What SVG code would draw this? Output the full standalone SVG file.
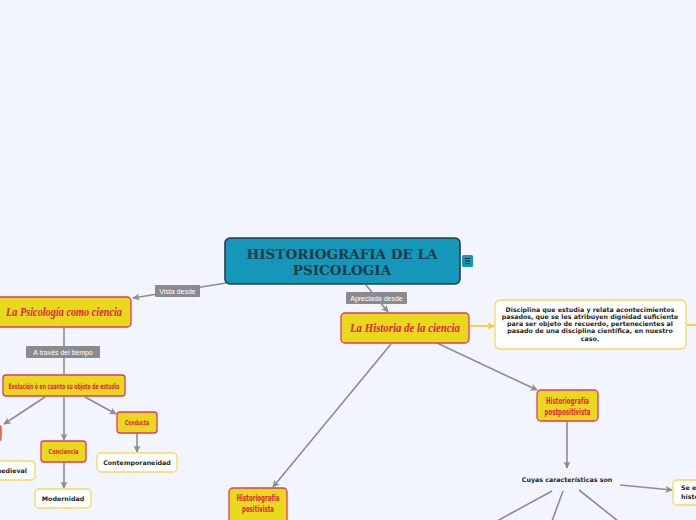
<svg xmlns="http://www.w3.org/2000/svg" width="696" height="520" viewBox="0 0 696 520">
<defs>
<style>
.bg{fill:#f2f5fd}
.ln{stroke:#8d8d8f;stroke-width:1.6;fill:none}
.lbl rect{fill:#8b8b8d}
.lbl text{fill:#fff;font-family:"Liberation Sans",Arial,sans-serif;font-size:7px;text-anchor:middle}
.y rect{fill:#e8d91c;stroke:#e5366a;stroke-width:1.3}
.script{fill:#e8223c;font-family:"Liberation Serif",serif;font-style:italic;font-weight:bold;font-size:12.5px;text-anchor:middle}
.cond{fill:#e8223c;font-family:"DejaVu Sans Condensed","DejaVu Sans",sans-serif;font-weight:bold;font-size:7px;text-anchor:middle}
.w rect{fill:#fff;stroke:#f7d75c;stroke-width:1.3}
.dk{fill:#1f1f24;font-family:"DejaVu Sans","Liberation Sans",sans-serif;font-weight:bold;font-size:6.3px;text-anchor:middle}
</style>
<marker id="ah" viewBox="0 0 10 10" refX="9" refY="5" markerWidth="4.5" markerHeight="4.5" orient="auto-start-reverse" markerUnits="strokeWidth">
<path d="M0,0 L10,5 L0,10 L2.5,5 z" fill="#8d8d8f"/>
</marker>
<marker id="ahy" viewBox="0 0 10 10" refX="9" refY="5" markerWidth="4.5" markerHeight="4.5" orient="auto" markerUnits="strokeWidth">
<path d="M0,0 L10,5 L0,10 L2.5,5 z" fill="#f7c81d"/>
</marker>
</defs>
<rect class="bg" x="0" y="0" width="696" height="520"/>

<g id="connectors">
<line class="ln" x1="226" y1="283" x2="133" y2="298" marker-end="url(#ah)"/>
<line class="ln" x1="64" y1="327" x2="64" y2="374"/>
<line class="ln" x1="45" y1="397" x2="4" y2="424" marker-end="url(#ah)"/>
<line class="ln" x1="64" y1="397" x2="64" y2="440" marker-end="url(#ah)"/>
<line class="ln" x1="85" y1="397" x2="116" y2="414" marker-end="url(#ah)"/>
<line class="ln" x1="64" y1="462" x2="64" y2="488" marker-end="url(#ah)"/>
<line class="ln" x1="137" y1="433" x2="137" y2="452" marker-end="url(#ah)"/>
<line class="ln" x1="366" y1="285" x2="388" y2="312" marker-end="url(#ah)"/>
<line x1="470" y1="326" x2="494" y2="326" stroke="#f7c81d" stroke-width="1.6" marker-end="url(#ahy)"/>
<line x1="687" y1="325" x2="696" y2="325" stroke="#f7c81d" stroke-width="1.6"/>
<line class="ln" x1="437" y1="343" x2="537" y2="390" marker-end="url(#ah)"/>
<line class="ln" x1="567" y1="422" x2="567" y2="468" marker-end="url(#ah)"/>
<line class="ln" x1="620" y1="485" x2="672" y2="490" marker-end="url(#ah)"/>
<line class="ln" x1="552" y1="491" x2="497" y2="521"/>
<line class="ln" x1="563" y1="491" x2="552" y2="521"/>
<line class="ln" x1="579" y1="490" x2="618" y2="521"/>
<line class="ln" x1="391" y1="344" x2="273" y2="487" marker-end="url(#ah)"/>
<g class="lbl"><rect x="155" y="285" width="45" height="12" rx="1"/><text x="177.5" y="293.5">Vista desde</text></g>
<g class="lbl"><rect x="26" y="346" width="74" height="12" rx="1"/><text x="63" y="354.5">A través del tiempo</text></g>
<g class="lbl"><rect x="346" y="292" width="61" height="12" rx="1"/><text x="376.5" y="300.5">Apreciada desde</text></g>
</g>

<g id="central">
<rect x="225" y="238" width="235" height="46" rx="5" fill="#1497b9" stroke="#2e3a40" stroke-width="1.6"/>
<text x="342" y="259" font-family="'DejaVu Serif',serif" font-weight="bold" font-size="13.5" fill="#1c3a4a" text-anchor="middle">HISTORIOGRAFIA DE LA</text>
<text x="342" y="275" font-family="'DejaVu Serif',serif" font-weight="bold" font-size="13.5" fill="#1c3a4a" text-anchor="middle">PSICOLOGIA</text>
</g>
<g id="menu-icon">
<rect x="462" y="255" width="11" height="12" rx="1.5" fill="#1497b9"/>
<path d="M465,258.5h5M465,261h5M465,263.5h5" stroke="#1c2a33" stroke-width="1.2"/>
</g>

<g id="psicologia" class="y">
<rect x="-4" y="297" width="135" height="30" rx="4"/>
<text class="script" x="64" y="316" textLength="116" lengthAdjust="spacingAndGlyphs">La Psicología como ciencia</text>
</g>
<g id="evolucion" class="y">
<rect x="3" y="375" width="122" height="21" rx="3"/>
<text class="cond" x="64" y="388.5" textLength="111" lengthAdjust="spacingAndGlyphs" style="font-size:7.6px">Evolución ó en cuanto su objeto de estudio</text>
</g>
<g id="hidden-left" class="y">
<rect x="-60" y="425" width="61" height="16" rx="3"/>
</g>
<g id="medieval" class="w">
<rect x="-30" y="461" width="65" height="19" rx="4"/>
<text class="dk" x="27" y="473" style="text-anchor:end">medieval</text>
</g>
<g id="conciencia" class="y">
<rect x="41" y="441" width="45" height="21" rx="3"/>
<text class="cond" x="63.5" y="454" textLength="30" lengthAdjust="spacingAndGlyphs">Conciencia</text>
</g>
<g id="modernidad" class="w">
<rect x="35" y="489" width="56" height="19" rx="4"/>
<text class="dk" x="63" y="501">Modernidad</text>
</g>
<g id="conducta" class="y">
<rect x="117" y="412" width="40" height="21" rx="3"/>
<text class="cond" x="137" y="425" textLength="24" lengthAdjust="spacingAndGlyphs">Conducta</text>
</g>
<g id="contemporaneidad" class="w">
<rect x="97" y="453" width="80" height="19" rx="4"/>
<text class="dk" x="137" y="465">Contemporaneidad</text>
</g>

<g id="historia" class="y">
<rect x="341" y="313" width="128" height="30" rx="4"/>
<text class="script" x="405" y="332" textLength="110" lengthAdjust="spacingAndGlyphs">La Historia de la ciencia</text>
</g>
<g id="disciplina" class="w">
<rect x="495" y="300" width="191" height="49" rx="5"/>
<text class="dk" x="590" y="312">Disciplina que estudia y relata  acontecimientos</text>
<text class="dk" x="590" y="319">pasados, que se les atribuyen dignidad suficiente</text>
<text class="dk" x="590" y="326">para ser objeto de recuerdo, pertenecientes al</text>
<text class="dk" x="590" y="333">pasado  de una disciplina científica, en nuestro</text>
<text class="dk" x="590" y="341">caso.</text>
</g>
<g id="postpositivista" class="y">
<rect x="537" y="390" width="61" height="31" rx="4"/>
<text class="cond" x="567.5" y="404" textLength="43" lengthAdjust="spacingAndGlyphs" style="font-size:8.5px">Historiografía</text>
<text class="cond" x="567.5" y="415" textLength="46" lengthAdjust="spacingAndGlyphs" style="font-size:8.5px">postpositivista</text>
</g>
<g id="caracteristicas">
<text class="dk" x="567" y="482">Cuyas características son</text>
</g>
<g id="se-e" class="w">
<rect x="673" y="480" width="40" height="25" rx="4"/>
<text class="dk" x="681" y="490" style="text-anchor:start">Se e</text>
<text class="dk" x="681" y="499" style="text-anchor:start">histo</text>
</g>
<g id="positivista" class="y">
<rect x="229" y="488" width="58" height="36" rx="4"/>
<text class="cond" x="258" y="501" textLength="43" lengthAdjust="spacingAndGlyphs" style="font-size:8.5px">Historiografía</text>
<text class="cond" x="258" y="512" textLength="32" lengthAdjust="spacingAndGlyphs" style="font-size:8.5px">positivista</text>
</g>
</svg>
